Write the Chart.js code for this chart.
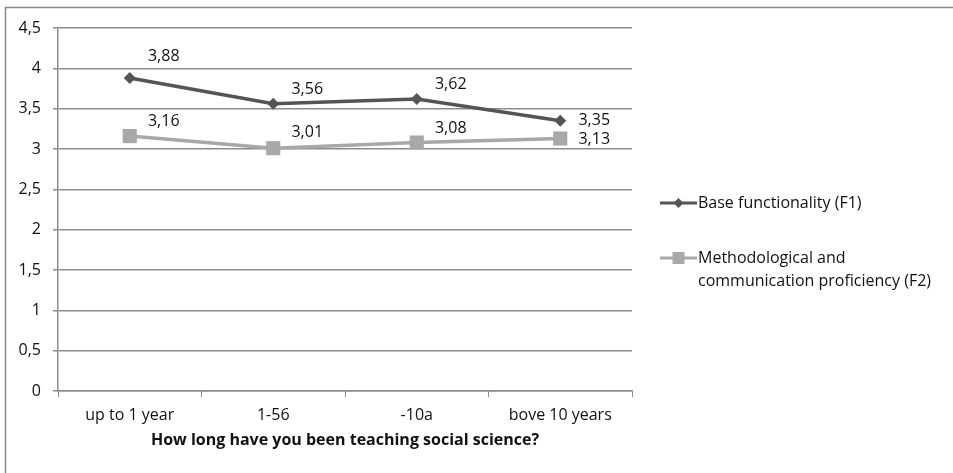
<!DOCTYPE html>
<html>
<head>
<meta charset="utf-8">
<script src="https://cdn.jsdelivr.net/npm/chart.js"></script>
<style>
  html, body { margin: 0; padding: 0; background: #ffffff; }
  #wrap { width: 953px; height: 473px; position: relative; }
</style>
</head>
<body>
<div id="wrap"><canvas id="chart" width="953" height="473"></canvas></div>
<script>
// Categories and series values
const categories = ['up to 1 year', '1-56', '-10a', 'bove 10 years'];
const baseFunctionality = [3.88, 3.56, 3.62, 3.35];
const methodological = [3.16, 3.01, 3.08, 3.13];
const seriesNames = ['Base functionality (F1)', 'Methodological and\ncommunication proficiency (F2)'];
const yTicks = [0, 0.5, 1, 1.5, 2, 2.5, 3, 3.5, 4, 4.5];
const axisTitle = 'How long have you been teaching social science?';

const FONT = '"Open Sans", "Liberation Sans", sans-serif';
const FSIZE = 16;
const TEXT = '#111111';
const GRID = '#8c8c8c';
const DARK = '#555555';
const LIGHT = '#a8a8a8';

const fmt = v => String(v).replace('.', ',');

// Value labels, offset from each point (pixels)
const labelOffsets = [
  { dx: 34, dy: [-22, -14, -15, 0] },
  { dx: 34, dy: [-15, -16, -14, 1] }
];

function drawMarker(ctx, style, x, y, r, color) {
  ctx.save();
  ctx.fillStyle = color;
  ctx.beginPath();
  if (style === 'rectRot') {
    ctx.moveTo(x, y - r); ctx.lineTo(x + r, y); ctx.lineTo(x, y + r); ctx.lineTo(x - r, y);
    ctx.closePath();
  } else {
    ctx.rect(x - r, y - r, 2 * r, 2 * r);
  }
  ctx.fill();
  ctx.restore();
}

const framePlugin = {
  id: 'frame',
  beforeDraw(chart) {
    const ctx = chart.ctx;
    ctx.save();
    ctx.strokeStyle = '#8a8a8a';
    ctx.lineWidth = 1.5;
    ctx.beginPath();
    ctx.moveTo(5.5, chart.height + 2);
    ctx.lineTo(5.5, 7.5);
    ctx.lineTo(chart.width + 2, 7.5);
    ctx.stroke();
    ctx.restore();
  }
};

const valueLabels = {
  id: 'valueLabels',
  afterDatasetsDraw(chart) {
    const ctx = chart.ctx;
    ctx.save();
    ctx.font = FSIZE + 'px ' + FONT;
    ctx.fillStyle = TEXT;
    ctx.textAlign = 'center';
    ctx.textBaseline = 'middle';
    chart.data.datasets.forEach((ds, di) => {
      const meta = chart.getDatasetMeta(di);
      const off = labelOffsets[di];
      meta.data.forEach((pt, i) => {
        ctx.fillText(fmt(ds.data[i]), pt.x + off.dx, pt.y + off.dy[i]);
      });
    });
    ctx.restore();
  }
};

const sideLegend = {
  id: 'sideLegend',
  afterDraw(chart) {
    const ctx = chart.ctx;
    const x0 = 660, x1 = 697, tx = 698;
    const rows = [203, 258];
    ctx.save();
    ctx.font = FSIZE + 'px ' + FONT;
    ctx.textAlign = 'left';
    ctx.textBaseline = 'middle';
    chart.data.datasets.forEach((ds, di) => {
      const y = rows[di];
      ctx.strokeStyle = ds.borderColor;
      ctx.lineWidth = 3;
      ctx.beginPath();
      ctx.moveTo(x0, y); ctx.lineTo(x1, y);
      ctx.stroke();
      drawMarker(ctx, ds.pointStyle, (x0 + x1) / 2, y, ds.pointStyle === 'rectRot' ? 5 : 6, ds.pointBackgroundColor);
      ctx.fillStyle = TEXT;
      ds.label.split('\n').forEach((line, li) => {
        ctx.fillText(line, tx, y + li * 23);
      });
    });
    ctx.restore();
  }
};

new Chart(document.getElementById('chart'), {
  type: 'line',
  data: {
    labels: categories,
    datasets: [
      {
        label: seriesNames[0],
        data: baseFunctionality,
        borderColor: DARK,
        backgroundColor: DARK,
        pointBackgroundColor: DARK,
        pointBorderColor: DARK,
        pointStyle: 'rectRot',
        pointRadius: 6,
        pointBorderWidth: 0,
        borderWidth: 3.5,
        tension: 0
      },
      {
        label: seriesNames[1],
        data: methodological,
        borderColor: LIGHT,
        backgroundColor: LIGHT,
        pointBackgroundColor: LIGHT,
        pointBorderColor: LIGHT,
        pointStyle: 'rect',
        pointRadius: 10,
        pointBorderWidth: 0,
        borderWidth: 3.5,
        tension: 0
      }
    ]
  },
  options: {
    responsive: false,
    animation: false,
    devicePixelRatio: 1,
    layout: { padding: { left: 0, top: 28, right: 321, bottom: 23 } },
    plugins: {
      legend: { display: false },
      tooltip: { enabled: false }
    },
    scales: {
      x: {
        type: 'category',
        offset: true,
        grid: {
          offset: true,
          drawOnChartArea: false,
          drawTicks: true,
          tickLength: 6,
          color: GRID,
          lineWidth: 1
        },
        border: { display: true, color: GRID, width: 1.5 },
        ticks: {
          color: TEXT,
          font: { family: FONT, size: FSIZE },
          padding: 9,
          maxRotation: 0
        },
        title: {
          display: true,
          text: axisTitle,
          color: TEXT,
          font: { family: FONT, size: FSIZE, weight: 'bold' },
          padding: { top: 3, bottom: 0 }
        },
        afterFit(scale) { scale.height = 59; }
      },
      y: {
        min: 0,
        max: 4.5,
        afterBuildTicks(scale) { scale.ticks = yTicks.map(v => ({ value: v })); },
        grid: {
          color: GRID,
          lineWidth: 1.5,
          drawTicks: true,
          tickLength: 5
        },
        border: { display: true, color: GRID, width: 1.5 },
        ticks: {
          color: TEXT,
          font: { family: FONT, size: FSIZE },
          padding: 12,
          callback: v => fmt(v)
        },
        afterFit(scale) { scale.width = 58; }
      }
    }
  },
  plugins: [framePlugin, valueLabels, sideLegend]
});
</script>
</body>
</html>
